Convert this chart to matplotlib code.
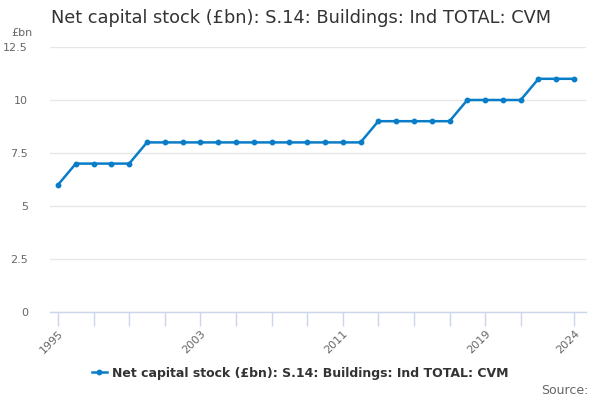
import matplotlib
matplotlib.use("Agg")
import matplotlib.pyplot as plt

# =============================================================================
# DATA
# =============================================================================

years = list(range(1995, 2025))
values = [6, 7, 7, 7, 7,
          8, 8, 8, 8, 8, 8, 8, 8, 8, 8, 8, 8, 8,
          9, 9, 9, 9, 9,
          10, 10, 10, 10,
          11, 11, 11]
tick_years = [1995, 1997, 1999, 2001, 2003, 2005, 2007, 2009, 2011, 2013,
              2015, 2017, 2019, 2021, 2024]
label_years = [1995, 2003, 2011, 2019, 2024]
y_ticks = [0, 2.5, 5, 7.5, 10, 12.5]
y_labels = ["0", "2.5", "5", "7.5", "10", "12.5"]
title = "Net capital stock (£bn): S.14: Buildings: Ind TOTAL: CVM"

# =============================================================================
# PLOT
# =============================================================================

plt.rcParams['font.family'] = ['DejaVu Sans']
fig = plt.figure(figsize=(6, 4), dpi=100)
ax = fig.add_axes([50 / 600, 1 - 312 / 400, 536 / 600, 265 / 400])

line_color = "#0a7dc8"
ax.plot(years, values, color=line_color, linewidth=1.8, marker="o",
        markersize=3.2, label=title, zorder=3)

ax.set_xlim(1994.55, 2024.67)
ax.set_ylim(0, 12.5)

ax.set_yticks(y_ticks)
ax.set_yticklabels(y_labels)
ax.yaxis.grid(True, color="#e6e6e6", linewidth=1)
ax.set_axisbelow(True)
ax.tick_params(axis="y", length=0, pad=16, labelsize=8, labelcolor="#666666")
for lab in ax.get_yticklabels():
    lab.set_horizontalalignment("right")

ax.set_xticks(tick_years)
ax.set_xticklabels([str(y) if y in label_years else "" for y in tick_years],
                   rotation=45, ha="right", rotation_mode="anchor")
ax.tick_params(axis="x", length=10, width=1, color="#ccd6eb",
               labelsize=8, labelcolor="#666666", pad=2)

for s in ["top", "right", "left"]:
    ax.spines[s].set_visible(False)
ax.spines["bottom"].set_color("#ccd6eb")
ax.spines["bottom"].set_linewidth(1)

fig.text(51 / 600, 1 - 18 / 400, title, fontsize=12.75, color="#333333",
         va="center", ha="left")
fig.text(33 / 600, 1 - 33 / 400, "£bn", fontsize=8, color="#666666",
         va="center", ha="right")

leg = fig.legend(loc="center", bbox_to_anchor=(0.5, 1 - 373 / 400),
                 frameon=False, handlelength=1.2, handletextpad=0.4,
                 prop={"weight": "bold", "size": 9})
for t in leg.get_texts():
    t.set_color("#333333")

fig.text(588 / 600, 1 - 390 / 400, "Source:", fontsize=9, color="#666666",
         va="center", ha="right")

plt.savefig("out.png", dpi=100)
